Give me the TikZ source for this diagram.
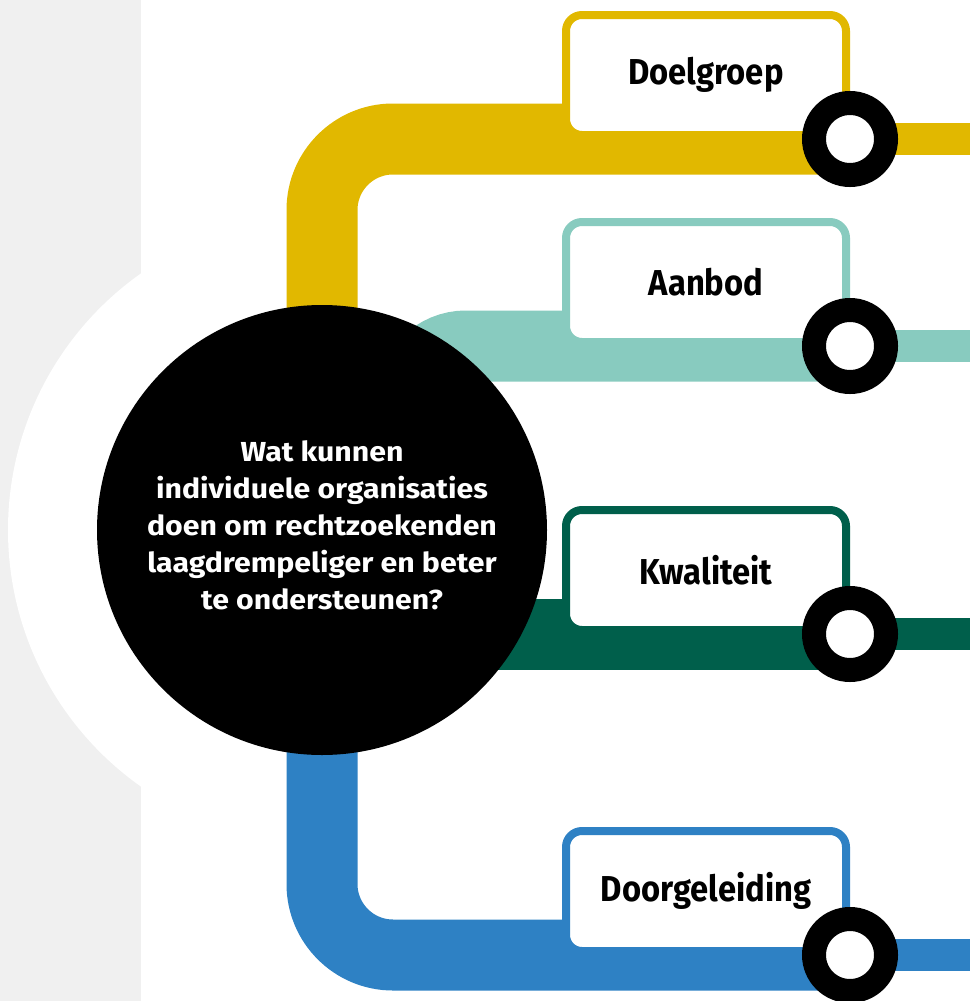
\documentclass[tikz,border=0pt]{standalone}
\usepackage{fontspec}
\setmainfont{Fira Sans}
\newfontfamily\hubfont[FakeStretch=1.1]{Fira Sans}
\newfontfamily\stopfont[FakeStretch=0.91]{Fira Sans}
\definecolor{lineyellow}{HTML}{E1B800}
\definecolor{lineteal}{HTML}{88CBBF}
\definecolor{linegreen}{HTML}{005F4B}
\definecolor{lineblue}{HTML}{2E81C4}
\definecolor{sidegrey}{HTML}{F0F0F0}

\begin{document}
\begin{tikzpicture}[x=1pt, y=-1pt,
track/.style={line width=71pt},
spur/.style={line width=32pt},
hubnode/.style={circle, fill=black, minimum size=450pt, inner sep=0pt},
hubtext/.style={text=white, align=center, inner sep=0pt, font=\hubfont\bfseries\fontsize{27.5}{37}\selectfont},
stopbox/.style={rectangle, rounded corners=16pt, draw, line width=8pt, fill=white, minimum width=280pt, minimum height=120pt, anchor=south east, font=\stopfont\bfseries\fontsize{36}{40}\selectfont},
stopring/.style={circle, draw=black, line width=24pt, fill=white, minimum size=72pt, inner sep=0pt}
]
    \useasboundingbox (0,0) rectangle (970,1001);
    \fill[sidegrey] (0,0) rectangle (141,1001);

    \coordinate (mid) at (322,530);
    \fill[white] (mid) circle (314pt);

    \coordinate (stopA) at (850,139);
    \coordinate (stopB) at (850,346);
    \coordinate (stopC) at (850,634);
    \coordinate (stopD) at (850,955);
    \coordinate (bendB) at (411,530);

    \coordinate (endA) at (970,139);
    \coordinate (endB) at (970,346);
    \coordinate (endC) at (970,634);
    \coordinate (endD) at (970,955);

    % tracks
    \draw[track, lineyellow, rounded corners=71pt] (mid) -- (mid |- stopA) -- (stopA);
    \draw[track, lineteal, rounded corners=55pt] (bendB) -- (bendB |- stopB) -- (stopB);
    \draw[track, linegreen] (mid |- stopC) -- (stopC);
    \draw[track, lineblue, rounded corners=71pt] (mid) -- (mid |- stopD) -- (stopD);

    \draw[spur, lineyellow] (stopA) -- (endA);
    \draw[spur, lineteal] (stopB) -- (endB);
    \draw[spur, linegreen] (stopC) -- (endC);
    \draw[spur, lineblue] (stopD) -- (endD);

    \node [hubnode] (hub) at (mid) {};
    \node [hubtext] (question) at ([yshift=5pt]hub.center) {Wat kunnen\\individuele organisaties\\doen om rechtzoekenden\\laagdrempeliger en beter\\te ondersteunen?};

    \node [stopbox, draw=lineyellow] (doelgroep) at (stopA) {Doelgroep};
    \node [stopbox, draw=lineteal] (aanbod) at (stopB) {Aanbod};
    \node [stopbox, draw=linegreen] (kwaliteit) at (stopC) {Kwaliteit};
    \node [stopbox, draw=lineblue] (doorgeleiding) at (stopD) {Doorgeleiding};

    \node [stopring] (ringA) at (stopA) {};
    \node [stopring] (ringB) at (stopB) {};
    \node [stopring] (ringC) at (stopC) {};
    \node [stopring] (ringD) at (stopD) {};
\end{tikzpicture}
\end{document}
